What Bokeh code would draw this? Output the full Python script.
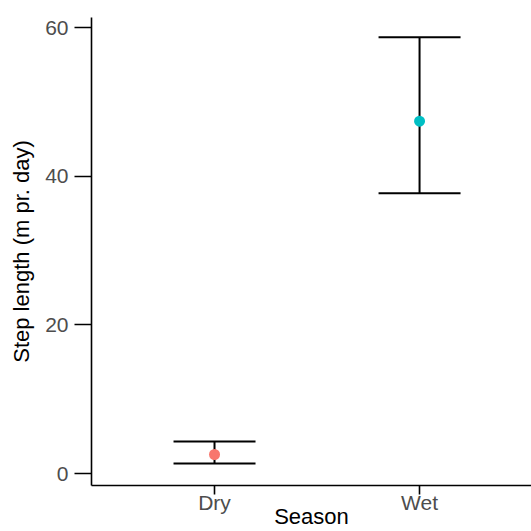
from bokeh.plotting import figure
from bokeh.models import Range1d, FixedTicker, ColumnDataSource, Whisker, TeeHead
from bokeh.embed import file_html
from bokeh.resources import INLINE

seasons = ["Dry", "Wet"]
season_pos = [1, 2]
mean_step = [2.56, 47.4]
lower_ci = [1.35, 37.7]
upper_ci = [4.3, 58.7]
colors = ["#F8766D", "#00BFC4"]
y_ticks = [0, 20, 40, 60]

src = ColumnDataSource(dict(x=season_pos, m=mean_step, lo=lower_ci, hi=upper_ci, c=colors))

p = figure(width=531, height=531, output_backend="svg", toolbar_location=None,
           x_range=Range1d(0.4, 2.546), y_range=Range1d(-1.61, 61.35),
           min_border_left=91, min_border_right=0, min_border_top=17, min_border_bottom=46)
p.outline_line_color = None
p.xgrid.visible = False
p.ygrid.visible = False
p.background_fill_color = "white"
p.border_fill_color = "white"

w = Whisker(source=src, base="x", lower="lo", upper="hi", dimension="height",
            line_color="black", line_width=2,
            upper_head=TeeHead(size=82, line_color="black", line_width=2),
            lower_head=TeeHead(size=82, line_color="black", line_width=2))
p.add_layout(w)
p.scatter("x", "m", source=src, size=11, color="c", line_color=None)

font = "Liberation Sans"
for ax in (p.xaxis[0], p.yaxis[0]):
    ax.axis_line_color = "black"
    ax.axis_line_width = 1.6
    ax.major_tick_line_color = "black"
    ax.major_tick_line_width = 1.6
    ax.minor_tick_line_color = None
    ax.major_tick_in = 0
    ax.major_label_text_font = font
    ax.major_label_text_font_size = "21px"
    ax.major_label_text_color = "#4D4D4D"
    ax.axis_label_text_font = font
    ax.axis_label_text_font_size = "22px"
    ax.axis_label_text_color = "black"
    ax.axis_label_text_font_style = "normal"

p.xaxis.ticker = FixedTicker(ticks=season_pos)
p.xaxis.major_label_overrides = {pos: s for pos, s in zip(season_pos, seasons)}
p.xaxis.major_tick_out = 9
p.xaxis.major_label_standoff = -4
p.xaxis.axis_label = "Season"
p.xaxis.axis_label_standoff = -13

p.yaxis.ticker = FixedTicker(ticks=y_ticks)
p.yaxis.major_tick_out = 17
p.yaxis.major_label_standoff = 6
p.yaxis.axis_label = "Step length (m pr. day)"
p.yaxis.axis_label_standoff = 8

open("out.html", "w").write(file_html(p, INLINE))
